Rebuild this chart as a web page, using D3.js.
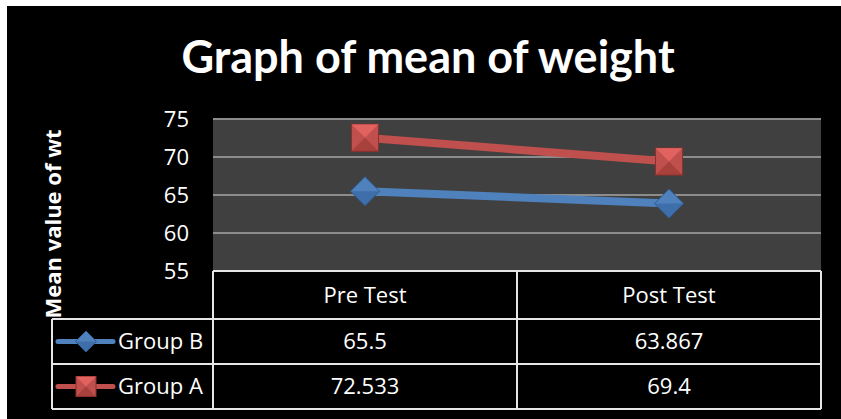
<!DOCTYPE html>
<html>
<head>
	<meta charset="UTF-8">
	<title>Graph of mean of weight</title>
	<script src="https://d3js.org/d3.v7.min.js"></script>
	<style>
		body { margin: 0; background: #fff; }
		text { font-family: "Open Sans", "Noto Sans", sans-serif; fill: #fff; }
	</style>
</head>
<body>
	<svg width="841" height="419"></svg>
	<script>
		var categories = ["Pre Test", "Post Test"];
		var groupB = [65.5, 63.867];
		var groupA = [72.533, 69.4];
		var groupBLabels = ["65.5", "63.867"];
		var groupALabels = ["72.533", "69.4"];
		var yTicks = [55, 60, 65, 70, 75];

		var series = [
			{ name: "Group B", values: groupB, labels: groupBLabels, color: "#4f81bd", dark: "#2e5d97", light: "#6d9be0", shape: "diamond" },
			{ name: "Group A", values: groupA, labels: groupALabels, color: "#c0504d", dark: "#8f2f2c", light: "#f06a66", shape: "square" }
		];

		const svg = d3.select("svg");

		// black chart background
		svg.append("rect")
			.attr("x", 7).attr("y", 6)
			.attr("width", 834).attr("height", 413)
			.attr("fill", "#000");

		const x = d3.scaleBand().domain(categories).range([213, 821]).padding(0);
		const y = d3.scaleLinear().domain([55, 75]).range([271, 119]);

		// title
		svg.append("text")
			.attr("x", 428).attr("y", 73)
			.attr("text-anchor", "middle")
			.style("font-family", "Lato, 'Open Sans', sans-serif")
			.style("font-weight", "bold")
			.style("font-size", "45px")
			.text("Graph of mean of weight");

		// plot area
		svg.append("rect")
			.attr("x", 213).attr("y", y(75))
			.attr("width", 608).attr("height", y(55) - y(75))
			.attr("fill", "#404040");

		// gridlines
		svg.selectAll(".grid")
			.data(yTicks.slice(1))
			.enter()
			.append("line")
			.attr("class", "grid")
			.attr("x1", 213).attr("x2", 821)
			.attr("y1", d => y(d)).attr("y2", d => y(d))
			.attr("stroke", "#8c8c8c")
			.attr("stroke-width", 2);

		// y axis labels
		svg.selectAll(".ytick")
			.data(yTicks)
			.enter()
			.append("text")
			.attr("class", "ytick")
			.attr("x", 189)
			.attr("y", d => y(d))
			.attr("dy", "0.36em")
			.attr("text-anchor", "end")
			.style("font-size", "22px")
			.text(d => d);

		// y axis title
		svg.append("text")
			.attr("transform", "translate(61,224) rotate(-90)")
			.attr("text-anchor", "middle")
			.style("font-weight", "bold")
			.style("font-size", "22px")
			.text("Mean value of wt");

		function drawMarker(g, s, cx, cy, size) {
			if (s.shape === "square") {
				var h = size / 2;
				g.append("rect").attr("x", cx - h).attr("y", cy - h).attr("width", size).attr("height", size)
					.attr("fill", s.color).attr("stroke", s.dark).attr("stroke-width", 1);
				g.append("path")
					.attr("d", `M${cx - h},${cy - h}L${cx + h},${cy - h}L${cx},${cy}Z`)
					.attr("fill", s.light).attr("opacity", 0.7);
				g.append("path")
					.attr("d", `M${cx - h},${cy + h}L${cx + h},${cy + h}L${cx},${cy}Z`)
					.attr("fill", s.dark).attr("opacity", 0.5);
			} else {
				var r = size / 2;
				g.append("path")
					.attr("d", `M${cx},${cy - r}L${cx + r},${cy}L${cx},${cy + r}L${cx - r},${cy}Z`)
					.attr("fill", s.color).attr("stroke", s.dark).attr("stroke-width", 1);
				g.append("path")
					.attr("d", `M${cx - r},${cy}L${cx + r},${cy}L${cx},${cy + r}Z`)
					.attr("fill", s.dark).attr("opacity", 0.5);
			}
		}

		// lines and markers
		const line = d3.line()
			.x((d, i) => x(categories[i]) + x.bandwidth() / 2)
			.y(d => y(d));

		series.slice().reverse().forEach(function (s) {
			svg.append("path")
				.datum(s.values)
				.attr("d", line)
				.attr("fill", "none")
				.attr("stroke", s.color)
				.attr("stroke-width", 8);
		});
		series.forEach(function (s) {
			const g = svg.append("g");
			s.values.forEach(function (v, i) {
				drawMarker(g, s, x(categories[i]) + x.bandwidth() / 2, y(v), s.shape === "square" ? 27 : 29);
			});
		});

		// data table
		const rowTop = [271, 319, 364, 409];
		const tableLeft = 52;
		const lineColor = "#e6e6e6";

		const tbl = svg.append("g");
		// horizontal lines
		tbl.append("line").attr("x1", 213).attr("x2", 821).attr("y1", rowTop[0]).attr("y2", rowTop[0]).attr("stroke", lineColor).attr("stroke-width", 2);
		rowTop.slice(1).forEach(function (yy) {
			tbl.append("line").attr("x1", tableLeft).attr("x2", 821).attr("y1", yy).attr("y2", yy).attr("stroke", lineColor).attr("stroke-width", 2);
		});
		// vertical lines
		tbl.append("line").attr("x1", tableLeft).attr("x2", tableLeft).attr("y1", rowTop[1]).attr("y2", rowTop[3]).attr("stroke", lineColor).attr("stroke-width", 2);
		[213, x("Post Test"), 821].forEach(function (xx) {
			tbl.append("line").attr("x1", xx).attr("x2", xx).attr("y1", rowTop[0]).attr("y2", rowTop[3]).attr("stroke", lineColor).attr("stroke-width", 2);
		});

		// header
		tbl.selectAll(".cat")
			.data(categories)
			.enter()
			.append("text")
			.attr("x", d => x(d) + x.bandwidth() / 2)
			.attr("y", (rowTop[0] + rowTop[1]) / 2)
			.attr("dy", "0.36em")
			.attr("text-anchor", "middle")
			.style("font-size", "22px")
			.text(d => d);

		// rows
		series.forEach(function (s, r) {
			const cy = (rowTop[r + 1] + rowTop[r + 2]) / 2;
			tbl.append("line")
				.attr("x1", 58).attr("x2", 113).attr("y1", cy).attr("y2", cy)
				.attr("stroke", s.color).attr("stroke-width", 5).attr("stroke-linecap", "round");
			drawMarker(tbl.append("g"), s, 86, cy, s.shape === "square" ? 20 : 21);
			tbl.append("text")
				.attr("x", 118).attr("y", cy)
				.attr("dy", "0.36em")
				.style("font-size", "22px")
				.text(s.name);
			s.labels.forEach(function (lab, i) {
				tbl.append("text")
					.attr("x", x(categories[i]) + x.bandwidth() / 2)
					.attr("y", cy)
					.attr("dy", "0.36em")
					.attr("text-anchor", "middle")
					.style("font-size", "22px")
					.text(lab);
			});
		});
	</script>
</body>
</html>
